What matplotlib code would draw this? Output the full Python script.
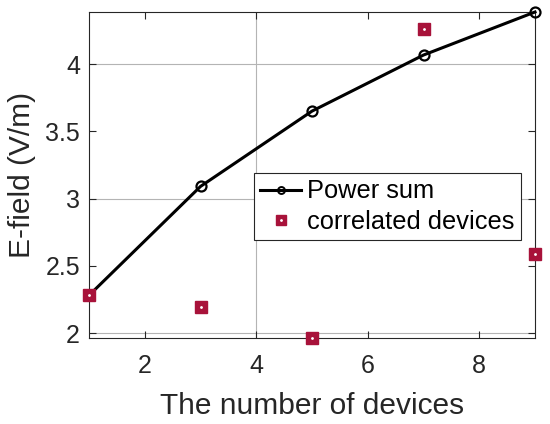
import numpy as np
import matplotlib
matplotlib.use('Agg')
import matplotlib.pyplot as plt

plt.rcParams['font.family'] = ['Liberation Sans', 'DejaVu Sans']

# data
n_devices = [1, 3, 5, 7, 9]
power_sum = [2.28, 3.09, 3.65, 4.067, 4.387]
correlated = [2.28, 2.19, 1.963, 4.26, 2.587]

xticks = [2, 4, 6, 8]
yticks = [2, 2.5, 3, 3.5, 4]
grid_x = [4]
grid_y = [2, 3, 4]

dark = '#262626'
red = '#a8123a'

fig = plt.figure(figsize=(5.5, 4.24), dpi=100)
ax = fig.add_axes([89/550, 86/424, 446/550, 326/424])

for gx in grid_x:
    ax.axvline(gx, color='#b4b4b4', lw=0.8, zorder=0)
for gy in grid_y:
    ax.axhline(gy, color='#b4b4b4', lw=0.8, zorder=0)

ax.plot(n_devices, power_sum, '-o', color='k', lw=2.2, ms=7.2,
        mfc='none', mec='k', mew=1.6, label='Power sum', zorder=3,
        clip_on=False)
ax.plot(n_devices, correlated, 's', color=red, ms=8, mec=red,
        label='correlated devices', zorder=4, clip_on=False)
ax.plot(n_devices, correlated, '.', color='white', ms=2, zorder=5,
        clip_on=False)

ax.set_xlim(1, 9)
ax.set_ylim(min(correlated), max(power_sum))
ax.set_xticks(xticks)
ax.set_yticks(yticks)
ax.set_yticklabels(['2', '2.5', '3', '3.5', '4'])
ax.tick_params(direction='in', top=True, right=True, length=5,
               width=0.8, colors=dark, labelsize=18)
ax.tick_params(axis='x', pad=11.5)
ax.tick_params(axis='y', pad=6.5)
for sp in ax.spines.values():
    sp.set_color(dark)
    sp.set_linewidth(0.8)

ax.set_xlabel('The number of devices', fontsize=21.5, color=dark, labelpad=10)
ax.set_ylabel('E-field (V/m)', fontsize=21.5, color=dark, labelpad=7)

h1, = ax.plot([], [], '-o', color='k', lw=2.2, ms=5, mfc='none', mec='k', mew=1.4)
h2, = ax.plot([], [], 's', color=red, ms=6.5, mec=red)
h3, = ax.plot([], [], '.', color='white', ms=2)
leg = ax.legend([h1, (h2, h3)], ['Power sum', 'correlated devices'],
                loc='upper left', bbox_to_anchor=(0.37, 0.506),
                borderaxespad=0, fontsize=18.3, fancybox=False,
                framealpha=1, edgecolor=dark, handlelength=1.6,
                handletextpad=0.25, borderpad=0.25, labelspacing=0.25)
leg.get_frame().set_linewidth(0.8)

plt.savefig('out.png', dpi=100)
